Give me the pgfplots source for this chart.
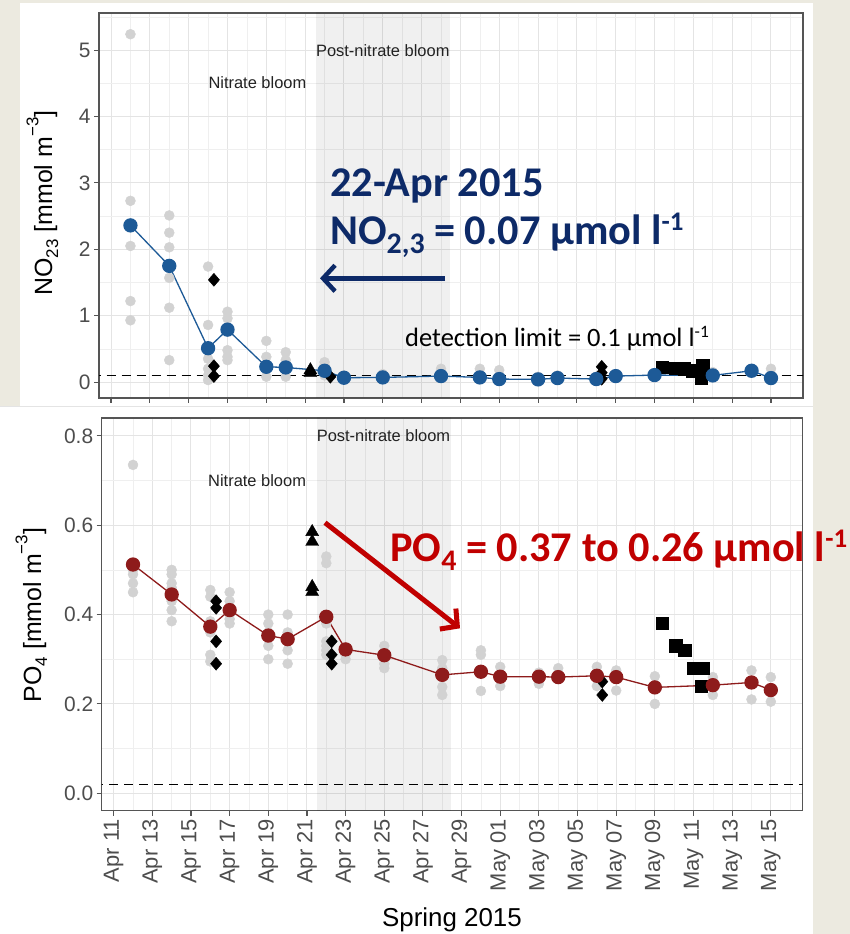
\documentclass[border=0pt]{standalone}
\usepackage{fontspec}
\setmainfont{Liberation Sans}
\newfontfamily\calibri{Carlito}
\usepackage{pgfplots}
\pgfplotsset{compat=1.18}
\usetikzlibrary{arrows.meta}
\definecolor{beige}{HTML}{ECEAE0}
\definecolor{axisgray}{HTML}{555555}
\definecolor{gridmaj}{HTML}{E4E4E4}
\definecolor{gridmin}{HTML}{EFEFEF}
\definecolor{ticklab}{HTML}{4D4D4D}
\definecolor{ptgray}{HTML}{D2D2D2}
\definecolor{nblue}{HTML}{1D5A97}
\definecolor{pred}{HTML}{8E1B1B}
\definecolor{navy}{HTML}{0D2A68}
\definecolor{annred}{HTML}{C00000}
\definecolor{txtdark}{HTML}{222222}
\pgfplotsset{
  myaxis/.style={
    scale only axis,
    xmin=10.38, xmax=46.65,
    axis line style={color=axisgray, line width=1.2bp},
    xtick={11,13,...,45}, minor xtick={10,12,...,46},
    grid=both,
    major grid style={color=gridmaj, line width=1bp},
    minor grid style={color=gridmin, line width=0.6bp},
    tick align=outside, major tick length=5bp, minor tick length=0bp,
    tick style={color=axisgray, line width=1.1bp},
    xtick pos=bottom, ytick pos=left,
    tick label style={font=\fontsize{21}{21}\selectfont, text=ticklab},
    /pgf/number format/assume math mode=true,
    clip=true,
  },
  gpts/.style={only marks, mark=*, mark size=5bp, draw=ptgray, fill=ptgray, forget plot},
  bdia/.style={only marks, mark=diamond*, mark size=6.5bp, black, mark options={xscale=1.15}, forget plot},
  btri/.style={only marks, mark=triangle*, mark size=7.5bp, black, forget plot},
  bsq/.style={only marks, mark=square*, mark size=6.2bp, black, forget plot},
  dline/.style={black, line width=1.4bp, dash pattern=on 9bp off 6bp, forget plot},
}
\begin{document}
\begin{tikzpicture}[x=1bp,y=1bp]
\useasboundingbox (0,0) rectangle (850,934);
\fill[beige] (0,0) rectangle (850,934);
\fill[white] (20,528) rectangle (813,931);
\fill[white] (0,0) rectangle (813,528);
\draw[color=gridmaj, line width=0.8bp] (0,528) -- (813,528);

% ---------------- top panel: NO23 ----------------
\begin{axis}[myaxis,
  at={(99bp,536bp)}, anchor=south west, width=704bp, height=385bp,
  ymin=-0.24, ymax=5.56,
  ytick={0,1,2,3,4,5}, minor ytick={0.5,1.5,2.5,3.5,4.5,5.5},
  xticklabels={},
]
\addplot[draw=none, fill=black, fill opacity=0.06, forget plot] coordinates {(21.55,-1) (28.47,-1) (28.47,10) (21.55,10)};
\addplot[gpts] coordinates {
 (12,5.24) (12,2.73) (12,2.36) (12,2.05) (12,1.22) (12,0.93)
 (14,2.51) (14,2.25) (14,2.03) (14,1.75) (14,1.57) (14,1.12) (14,0.33)
 (16,1.74) (16,0.86) (16,0.51) (16,0.35) (16,0.20) (16,0.10) (16,0.03)
 (17,1.06) (17,0.96) (17,0.79) (17,0.48) (17,0.38) (17,0.33)
 (19,0.62) (19,0.38) (19,0.23) (19,0.08)
 (20,0.45) (20,0.33) (20,0.22) (20,0.08)
 (22,0.30) (22,0.25) (22,0.10)
 (23,0.10) (25,0.12)
 (28,0.20) (28,0.12) (30,0.20) (30,0.10) (31,0.18) (31,0.08)
 (33,0.08) (34,0.10) (36,0.08) (37,0.10) (39,0.12) (42,0.15)
 (44,0.20) (45,0.20) (45,0.10)
};
\addplot[dline] coordinates {(10,0.1) (47,0.1)};
\addplot[bdia] coordinates {(16.3,1.54) (16.3,0.24) (16.3,0.09) (22.3,0.08) (36.28,0.23) (36.28,0.14) (36.28,0.05)};
\addplot[btri] coordinates {(21.27,0.18) (21.27,0.14)};
\addplot[bsq] coordinates {(39.38,0.22) (40.07,0.21) (40.54,0.20) (40.97,0.17) (41.4,0.06) (41.49,0.25)};
\addplot[nblue, line width=1.3bp, mark=*, mark size=6.5bp, mark options={solid, fill=nblue, draw=nblue}] coordinates {
 (12,2.36) (14,1.75) (16,0.51) (17,0.79) (19,0.23) (20,0.22) (22,0.17) (23,0.065)
 (25,0.07) (28,0.09) (30,0.07) (31,0.045) (33,0.04) (34,0.06) (36,0.045) (37,0.09)
 (39,0.105) (42,0.10) (44,0.17) (45,0.06)
};
\node[font=\fontsize{16.5}{16.5}\selectfont, text=txtdark] at (axis cs:18.54,4.51) {Nitrate bloom};
\node[font=\fontsize{16.5}{16.5}\selectfont, text=txtdark] at (axis cs:25.0,4.99) {Post-nitrate bloom};
\end{axis}

% ---------------- bottom panel: PO4 ----------------
\begin{axis}[myaxis,
  at={(101.7bp,123.3bp)}, anchor=south west, width=701bp, height=392.7bp,
  ymin=-0.039, ymax=0.84,
  ytick={0,0.2,0.4,0.6,0.8}, minor ytick={0.1,0.3,0.5,0.7},
  yticklabel style={/pgf/number format/.cd, fixed, fixed zerofill, precision=1},
  xticklabels={Apr 11,Apr 13,Apr 15,Apr 17,Apr 19,Apr 21,Apr 23,Apr 25,Apr 27,Apr 29,May 01,May 03,May 05,May 07,May 09,May 11,May 13,May 15},
  xticklabel style={rotate=90, anchor=east, font=\fontsize{22}{22}\selectfont},
]
\addplot[draw=none, fill=black, fill opacity=0.06, forget plot] coordinates {(21.5,-1) (28.46,-1) (28.46,2) (21.5,2)};
\addplot[gpts] coordinates {
 (12,0.735) (12,0.50) (12,0.49) (12,0.47) (12,0.45)
 (14,0.50) (14,0.49) (14,0.47) (14,0.46) (14,0.43) (14,0.41) (14,0.385)
 (16,0.455) (16,0.44) (16,0.385) (16,0.36) (16,0.31) (16,0.295)
 (17,0.45) (17,0.43) (17,0.40) (17,0.39) (17,0.38)
 (19,0.40) (19,0.38) (19,0.36) (19,0.33) (19,0.30)
 (20,0.40) (20,0.36) (20,0.35) (20,0.32) (20,0.29)
 (22,0.53) (22,0.515) (22,0.38) (22,0.34) (22,0.33) (22,0.32) (22,0.31)
 (23,0.31) (23,0.30)
 (25,0.33) (25,0.29) (25,0.28)
 (28,0.298) (28,0.28) (28,0.238) (28,0.22)
 (30,0.32) (30,0.31) (30,0.229)
 (31,0.283) (31,0.24)
 (33,0.27) (33,0.245)
 (34,0.28) (34,0.26)
 (36,0.283) (36,0.24)
 (37,0.275) (37,0.23)
 (39,0.262) (39,0.20)
 (42,0.26) (42,0.22)
 (44,0.275) (44,0.21)
 (45,0.26) (45,0.205)
};
\addplot[dline] coordinates {(10,0.02) (47,0.02)};
\addplot[bdia] coordinates {(16.3,0.43) (16.3,0.415) (16.3,0.34) (16.3,0.29) (22.28,0.34) (22.28,0.31) (22.28,0.29) (36.28,0.25) (36.28,0.22)};
\addplot[btri] coordinates {(21.27,0.585) (21.27,0.563) (21.27,0.462) (21.27,0.451)};
\addplot[bsq] coordinates {(39.38,0.38) (40.07,0.33) (40.54,0.32) (40.97,0.28) (41.49,0.28) (41.4,0.24)};
\addplot[pred, line width=1.3bp, mark=*, mark size=6.5bp, mark options={solid, fill=pred, draw=pred}] coordinates {
 (12,0.512) (14,0.445) (16,0.373) (17,0.41) (19,0.353) (20,0.345) (22,0.395) (23,0.322)
 (25,0.309) (28,0.265) (30,0.272) (31,0.261) (33,0.261) (34,0.26) (36,0.263) (37,0.26)
 (39,0.237) (42,0.242) (44,0.248) (45,0.231)
};
\node[font=\fontsize{16.5}{16.5}\selectfont, text=txtdark] at (axis cs:18.42,0.699) {Nitrate bloom};
\node[font=\fontsize{16.5}{16.5}\selectfont, text=txtdark] at (axis cs:24.96,0.80) {Post-nitrate bloom};
\end{axis}

% axis titles
\node[rotate=90, anchor=base, font=\fontsize{25}{25}\selectfont] at (52,731)
  {NO\raisebox{-0.25em}{\fontsize{17}{17}\selectfont 23} [mmol m\raisebox{0.55em}{\fontsize{17}{17}\selectfont −3}]};
\node[rotate=90, anchor=base, font=\fontsize{25}{25}\selectfont] at (41,319)
  {PO\raisebox{-0.25em}{\fontsize{17}{17}\selectfont 4} [mmol m\raisebox{0.55em}{\fontsize{17}{17}\selectfont −3}]};
\node[anchor=base, font=\fontsize{26}{26}\selectfont] at (452,7.3) {Spring 2015};

% annotations
\node[anchor=base west, inner sep=0pt, text=navy, font=\calibri\bfseries\fontsize{42.5}{42.5}\selectfont] at (330,737.3) {22-Apr 2015};
\node[anchor=base west, inner sep=0pt, text=navy, font=\calibri\bfseries\fontsize{42.5}{42.5}\selectfont] at (330,689)
  {NO\raisebox{-9bp}{\fontsize{30}{30}\selectfont 2,3} = 0.07 µmol l\raisebox{14bp}{\fontsize{27}{27}\selectfont -1}};
\draw[navy, line width=4.5bp, -{Straight Barb[length=12bp,width=26bp]}] (445,655.7) -- (320,655.7);
\node[anchor=base west, inner sep=0pt, text=black, font=\calibri\fontsize{26.6}{26.6}\selectfont] at (405,587.3)
  {detection limit = 0.1 µmol l\raisebox{9bp}{\fontsize{17.5}{17.5}\selectfont -1}};
\node[anchor=base west, inner sep=0pt, text=annred, font=\calibri\bfseries\fontsize{42.5}{42.5}\selectfont] at (390,372.3)
  {PO\raisebox{-9bp}{\fontsize{30}{30}\selectfont 4} = 0.37 to 0.26 µmol l\raisebox{14bp}{\fontsize{27}{27}\selectfont -1}};
\draw[annred, line width=5bp, -{Straight Barb[length=12bp,width=26bp]}] (325,411.3) -- (460,305.7);
\end{tikzpicture}
\end{document}
